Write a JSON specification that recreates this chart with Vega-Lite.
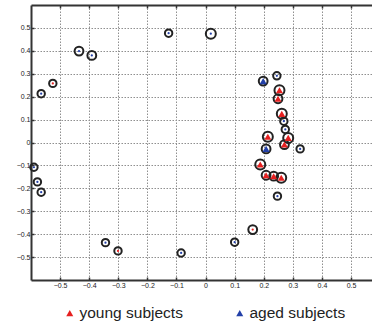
{
  "$schema": "https://vega.github.io/schema/vega-lite/v6.json",
  "width": 341,
  "height": 275,
  "autosize": "none",
  "padding": {"left": 31, "top": 5, "right": 0, "bottom": 46},
  "background": "white",
  "config": {"view": {"stroke": null}, "font": "Liberation Sans"},
  "resolve": {"scale": {"size": "independent", "shape": "independent", "color": "independent"}},
  "data": {
    "values": [
      {"x": -0.565, "y": 0.213, "weight": 1, "group": "aged subjects", "marker": "dot"},
      {"x": -0.525, "y": 0.258, "weight": 1, "group": "young subjects", "marker": "dot"},
      {"x": -0.435, "y": 0.399, "weight": 2, "group": "aged subjects", "marker": "dot"},
      {"x": -0.391, "y": 0.380, "weight": 2, "group": "aged subjects", "marker": "dot"},
      {"x": -0.127, "y": 0.477, "weight": 1, "group": "aged subjects", "marker": "dot"},
      {"x": 0.018, "y": 0.475, "weight": 3, "group": "aged subjects", "marker": "dot"},
      {"x": 0.198, "y": 0.268, "weight": 2, "group": "aged subjects", "marker": "triangle"},
      {"x": 0.245, "y": 0.291, "weight": 1, "group": "aged subjects", "marker": "dot"},
      {"x": 0.254, "y": 0.228, "weight": 3, "group": "young subjects", "marker": "triangle"},
      {"x": 0.249, "y": 0.191, "weight": 2, "group": "young subjects", "marker": "triangle"},
      {"x": 0.262, "y": 0.125, "weight": 3, "group": "young subjects", "marker": "triangle"},
      {"x": 0.269, "y": 0.093, "weight": 1, "group": "aged subjects", "marker": "dot"},
      {"x": 0.274, "y": 0.057, "weight": 1, "group": "aged subjects", "marker": "dot"},
      {"x": 0.214, "y": 0.025, "weight": 3, "group": "young subjects", "marker": "triangle"},
      {"x": 0.284, "y": 0.020, "weight": 3, "group": "young subjects", "marker": "triangle"},
      {"x": 0.271, "y": -0.009, "weight": 2, "group": "young subjects", "marker": "triangle"},
      {"x": 0.208, "y": -0.028, "weight": 2, "group": "aged subjects", "marker": "triangle"},
      {"x": 0.325, "y": -0.028, "weight": 1, "group": "aged subjects", "marker": "dot"},
      {"x": 0.188, "y": -0.096, "weight": 3, "group": "young subjects", "marker": "triangle"},
      {"x": 0.208, "y": -0.143, "weight": 2, "group": "young subjects", "marker": "triangle"},
      {"x": 0.234, "y": -0.147, "weight": 2, "group": "young subjects", "marker": "triangle"},
      {"x": 0.260, "y": -0.154, "weight": 3, "group": "young subjects", "marker": "triangle"},
      {"x": 0.247, "y": -0.234, "weight": 1, "group": "aged subjects", "marker": "dot"},
      {"x": 0.162, "y": -0.380, "weight": 2, "group": "young subjects", "marker": "dot"},
      {"x": 0.100, "y": -0.435, "weight": 1, "group": "aged subjects", "marker": "dot"},
      {"x": -0.084, "y": -0.482, "weight": 1, "group": "aged subjects", "marker": "dot"},
      {"x": -0.301, "y": -0.473, "weight": 1, "group": "young subjects", "marker": "dot"},
      {"x": -0.344, "y": -0.437, "weight": 1, "group": "aged subjects", "marker": "dot"},
      {"x": -0.590, "y": -0.108, "weight": 1, "group": "aged subjects", "marker": "dot"},
      {"x": -0.578, "y": -0.172, "weight": 1, "group": "aged subjects", "marker": "dot"},
      {"x": -0.565, "y": -0.217, "weight": 1, "group": "aged subjects", "marker": "dot"}
    ]
  },
  "encoding": {
    "y": {
      "field": "y", "type": "quantitative",
      "scale": {"domain": [-0.6, 0.6], "nice": false, "zero": false},
      "axis": {
        "orient": "left", "title": null,
        "values": [-0.5, -0.4, -0.3, -0.2, -0.1, 0, 0.1, 0.2, 0.3, 0.4, 0.5],
        "format": "~g", "labelOverlap": false, "labelFlush": false, "labelBound": false,
        "grid": true, "gridColor": "#8f8f8f", "gridDash": [1.5, 1.5], "gridWidth": 1,
        "domainColor": "#333", "domainWidth": 2,
        "tickColor": "#333", "tickSize": -3, "tickWidth": 1.5,
        "labelFontSize": 7, "labelColor": "#222", "labelPadding": 4
      }
    }
  },
  "layer": [
    {
      "mark": {"type": "point", "filled": false, "stroke": "#222", "strokeWidth": 2, "opacity": 1},
      "encoding": {
        "x": {
          "field": "x", "type": "quantitative",
          "scale": {"domain": [-0.6, 0.572], "nice": false, "zero": false},
          "axis": {
            "orient": "bottom", "title": null,
            "values": [-0.5, -0.4, -0.3, -0.2, -0.1, 0, 0.1, 0.2, 0.3, 0.4, 0.5],
            "format": "~g", "labelOverlap": false, "labelFlush": false,
            "grid": true, "gridColor": "#8f8f8f", "gridDash": [1.5, 1.5], "gridWidth": 1,
            "domainColor": "#333", "domainWidth": 2,
            "tickColor": "#333", "tickSize": -3, "tickWidth": 1.5,
            "labelFontSize": 7, "labelColor": "#222", "labelPadding": 4
          }
        },
        "size": {"field": "weight", "type": "ordinal", "scale": {"domain": [1, 2, 3], "range": [55, 100, 160]}, "legend": null}
      }
    },
    {
      "mark": {"type": "point", "filled": true, "opacity": 1},
      "encoding": {
        "x": {
          "field": "x", "type": "quantitative",
          "axis": {
            "orient": "top", "title": null, "labels": false, "grid": false,
            "values": [-0.5, -0.4, -0.3, -0.2, -0.1, 0, 0.1, 0.2, 0.3, 0.4, 0.5],
            "domainColor": "#333", "domainWidth": 2,
            "tickColor": "#333", "tickSize": -3, "tickWidth": 1.5
          }
        },
        "color": {
          "field": "group", "type": "nominal",
          "scale": {"domain": ["young subjects", "aged subjects"], "range": ["#e62020", "#2340a8"]},
          "legend": {
            "title": null, "orient": "none", "direction": "horizontal",
            "legendX": 31, "legendY": 300,
            "symbolType": "triangle-up", "symbolSize": 50, "symbolStrokeWidth": 0,
            "labelFontSize": 15.5, "labelColor": "#222", "labelFont": "Liberation Sans",
            "labelOffset": 2, "columnPadding": 49
          }
        },
        "shape": {"field": "marker", "type": "nominal", "scale": {"domain": ["triangle", "dot"], "range": ["triangle-up", "circle"]}, "legend": null},
        "size": {"field": "marker", "type": "nominal", "scale": {"domain": ["triangle", "dot"], "range": [50, 5]}, "legend": null}
      }
    }
  ]
}
